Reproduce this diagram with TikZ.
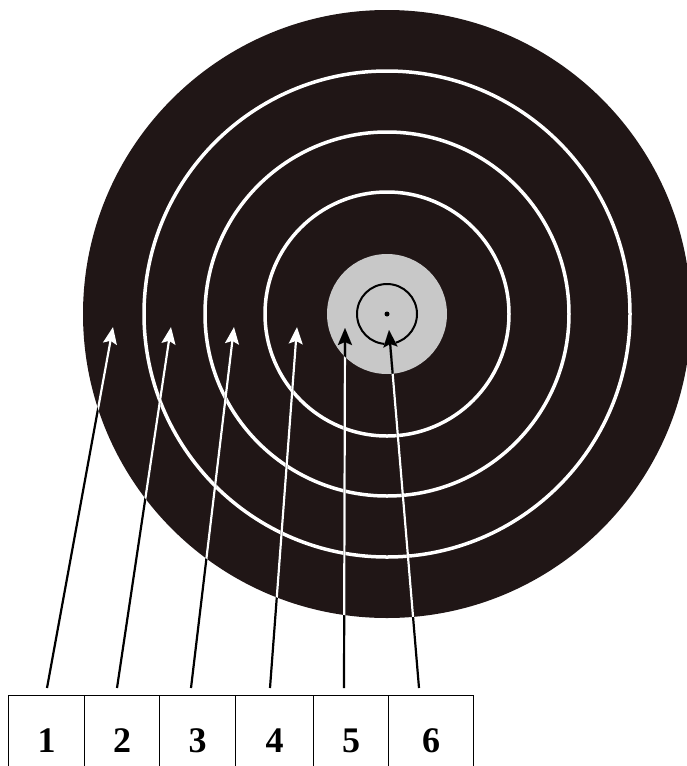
\documentclass[tikz,border=0pt]{standalone}
\usepackage{fontspec}
\setmainfont{Liberation Serif}
\usetikzlibrary{arrows.meta}
\definecolor{targetblack}{RGB}{32,22,22}
\definecolor{targetgrey}{RGB}{200,200,200}
\begin{document}
\begin{tikzpicture}[
    x=1pt, y=-1pt,
    ring/.style={draw=white, line width=3.5pt},
    cell/.style={draw, line width=1.2pt, minimum height=90pt, inner sep=0pt,
                 font=\fontsize{36}{38}\selectfont\bfseries},
    ptr/.style={-{Stealth[length=17pt, width=14pt, inset=3pt]}, line width=2.2pt}
]
\useasboundingbox (0,0) rectangle (687,766);
% target face
\coordinate (c) at (387,314);
\fill[targetblack] (c) circle (304);
\foreach \r in {243,182,122}
   \draw[ring] (c) circle (\r);
\fill[targetgrey] (c) circle (60);
\draw[line width=2pt] (c) circle (30);
\fill (c) circle (2.5);
% table of zone numbers (cell edges given left/right)
\foreach \n/\l/\r in {1/8/84, 2/84/159, 3/159/235, 4/235/313, 5/313/388, 6/388/473}
   \node[cell, minimum width=\r pt-\l pt, anchor=north west] (z\n) at (\l,695) {\n};
% arrow ends
\foreach \n/\tx/\hx/\hy in {1/47/113/327, 2/117/171/327, 3/191/234/327,
                            4/270/297/327, 5/344/345/328, 6/419/389/330}{
   \coordinate (t\n) at (\tx,688);
   \coordinate (h\n) at (\hx,\hy);
}
% arrows: black on white, white on black, black on grey
\foreach \n in {1,...,6}
   \draw[ptr, black] (t\n) -- (h\n);
\begin{scope}
   \clip (c) circle (304);
   \foreach \n in {1,...,6}
      \draw[ptr, white] (t\n) -- (h\n);
\end{scope}
\begin{scope}
   \clip (c) circle (60);
   \foreach \n in {1,...,6}
      \draw[ptr, black] (t\n) -- (h\n);
\end{scope}
\end{tikzpicture}
\end{document}
